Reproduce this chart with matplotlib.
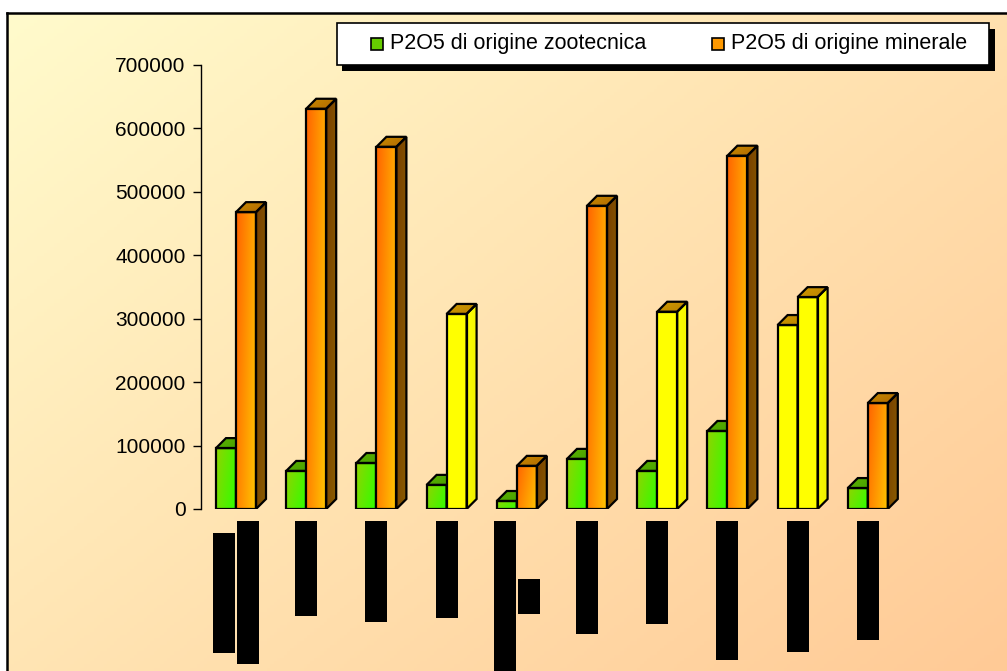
import matplotlib.pyplot as plt
import numpy as np
from matplotlib.patches import Polygon, Rectangle
from matplotlib.lines import Line2D
from matplotlib.colors import to_rgb

plt.rcParams['font.family'] = ['Liberation Sans', 'DejaVu Sans']

# P2O5 per area (kg)
zootecnica = [96000, 60000, 72500, 38000, 12600, 79000, 60000, 123000, 290000, 33000]
minerale = [468000, 631000, 571000, 307500, 68000, 478000, 311000, 557000, 334000, 167000]
# bars shown highlighted in yellow
zoo_yellow = [False, False, False, False, False, False, False, False, True, False]
min_yellow = [False, False, False, True, False, False, True, False, True, False]
# category labels (blanked out): length of each text line in pixels
label_lines = [[120, 143], [95], [101], [97], [151, 35], [113], [103], [139], [131], [119]]
series_names = ['P2O5 di origine zootecnica', 'P2O5 di origine minerale']
yticks = np.arange(0, 700001, 100000)

W, H = 1007, 671
fig = plt.figure(figsize=(W / 100, H / 100), dpi=100)
fig.patch.set_facecolor('white')


def fx(px):
    return px / W


def fy(py):
    return 1 - py / H


# background panel with diagonal gradient
bg = fig.add_axes([fx(7), 0, 1 - fx(7), fy(13)], zorder=-2)
gx, gy = np.meshgrid(np.linspace(0, 1, 300), np.linspace(0, 1, 200))
t = np.clip(0.55 * gx + 0.45 * gy, 0, 1)[..., None]
c0, c1 = np.array(to_rgb('#fffbcc')), np.array(to_rgb('#ffca96'))
bg.imshow(c0 + (c1 - c0) * t, aspect='auto', extent=[0, 1, 1, 0])
bg.axis('off')
fig.add_artist(Line2D([fx(7), fx(7)], [0, fy(13)], color='black', lw=1.8))
fig.add_artist(Line2D([fx(7), 1], [fy(13), fy(13)], color='black', lw=1.8))

# main axes, 1 x unit = one category step
step = 70.2
ax_h = 444
ax = fig.add_axes([fx(201), fy(509), 1 - fx(201), ax_h / H])
ax.set_facecolor('none')
ymax = 700000
px_y = ymax / ax_h
bw = 20 / step
dx, dy = 10 / step, 10 * px_y
x = np.arange(len(zootecnica))


def gradient_face(x0, x1, y0, y1, c_a, c_b, wx, wy, z):
    gx, gy = np.meshgrid(np.linspace(0, 1, 30), np.linspace(0, 1, 60))
    t = np.clip(wx * gx + wy * gy, 0, 1)[..., None]
    a, b = np.array(to_rgb(c_a)), np.array(to_rgb(c_b))
    return ax.imshow(a + (b - a) * t, extent=[x0, x1, y0, y1], aspect='auto',
                     origin='upper', zorder=z, interpolation='bilinear')


def bar3d(rect, kind, yellow, z):
    x0, y1 = rect.get_x(), rect.get_height()
    x1 = x0 + rect.get_width()
    if yellow:
        front, side, top = ('#ffff00', '#ffff00'), ('#ffff00', '#eeee00'), ('#d09a00', '#b88000')
    elif kind == 'zoo':
        front, side, top = ('#90d400', '#30ff00'), ('#3a8a00', '#3a8a00'), ('#5cb000', '#44a000')
    else:
        front, side, top = ('#ff6400', '#ffc400'), ('#784000', '#8a5c00'), ('#c88a00', '#b06800')
    im = gradient_face(x0, x1, 0, y1, front[0], front[1], 0.7, 0.3, z + 0.1)
    im.set_clip_path(rect)
    rect.set_facecolor('none')
    rect.set_edgecolor('black')
    rect.set_linewidth(1.6)
    rect.set_zorder(z + 0.2)
    side_p = Polygon([(x1, 0), (x1 + dx, dy), (x1 + dx, y1 + dy), (x1, y1)],
                     closed=True, fc='none', ec='black', lw=1.6, zorder=z + 0.2)
    top_p = Polygon([(x0, y1), (x0 + dx, y1 + dy), (x1 + dx, y1 + dy), (x1, y1)],
                    closed=True, fc='none', ec='black', lw=1.6, zorder=z + 0.2)
    for p, cols in ((side_p, side), (top_p, top)):
        ax.add_patch(p)
        ext = p.get_path().get_extents()
        g = gradient_face(ext.x0, ext.x1, ext.y0, ext.y1, cols[0], cols[1], 0.6, 0.4, z)
        g.set_clip_path(p)


bars_z = ax.bar(x - bw, zootecnica, bw, align='edge')
bars_m = ax.bar(x, minerale, bw, align='edge')
for r, yl in zip(bars_z, zoo_yellow):
    bar3d(r, 'zoo', yl, 2)
for r, yl in zip(bars_m, min_yellow):
    bar3d(r, 'min', yl, 3)

# blanked category labels under each group
lw_px = 22 / step
for i, lines in enumerate(label_lines):
    n = len(lines)
    longest = max(lines)
    centre = -(521 - 509 + longest / 2) * px_y
    for j, ln in enumerate(lines):
        off = (j - (n - 1) / 2) * 24 / step
        ax.add_patch(Rectangle((i + off - lw_px / 2, centre - ln / 2 * px_y), lw_px, ln * px_y,
                               fc='black', ec='none', clip_on=False, zorder=4))

ax.set_xlim(-35 / step, (W - 201 - 35) / step)
ax.set_ylim(0, ymax)
ax.set_yticks(yticks)
ax.set_yticklabels([str(v) for v in yticks], fontsize=15)
ax.tick_params(axis='y', direction='out', length=6, width=1, pad=5)
ax.set_xticks([])
for s in ['top', 'right', 'bottom']:
    ax.spines[s].set_visible(False)
ax.spines['left'].set_linewidth(1)

# legend box with solid drop shadow
fig.add_artist(Rectangle((fx(342), fy(71)), fx(995) - fx(342), fy(29) - fy(71),
                         transform=fig.transFigure, fc='black', ec='none', zorder=5))
fig.add_artist(Rectangle((fx(337), fy(65)), fx(989) - fx(337), fy(23) - fy(65),
                         transform=fig.transFigure, fc='white', ec='black', lw=1.2, zorder=6))
for name, col, hx in zip(series_names, ['#66cc00', '#ff9900'], [371, 712]):
    fig.add_artist(Rectangle((fx(hx), fy(50)), fx(12), 12 / H, transform=fig.transFigure,
                             fc=col, ec='black', lw=1.2, zorder=7))
    fig.text(fx(hx + 19), fy(44), name, fontsize=15.5, va='center', ha='left', zorder=7)

fig.savefig('out.png', dpi=100)
